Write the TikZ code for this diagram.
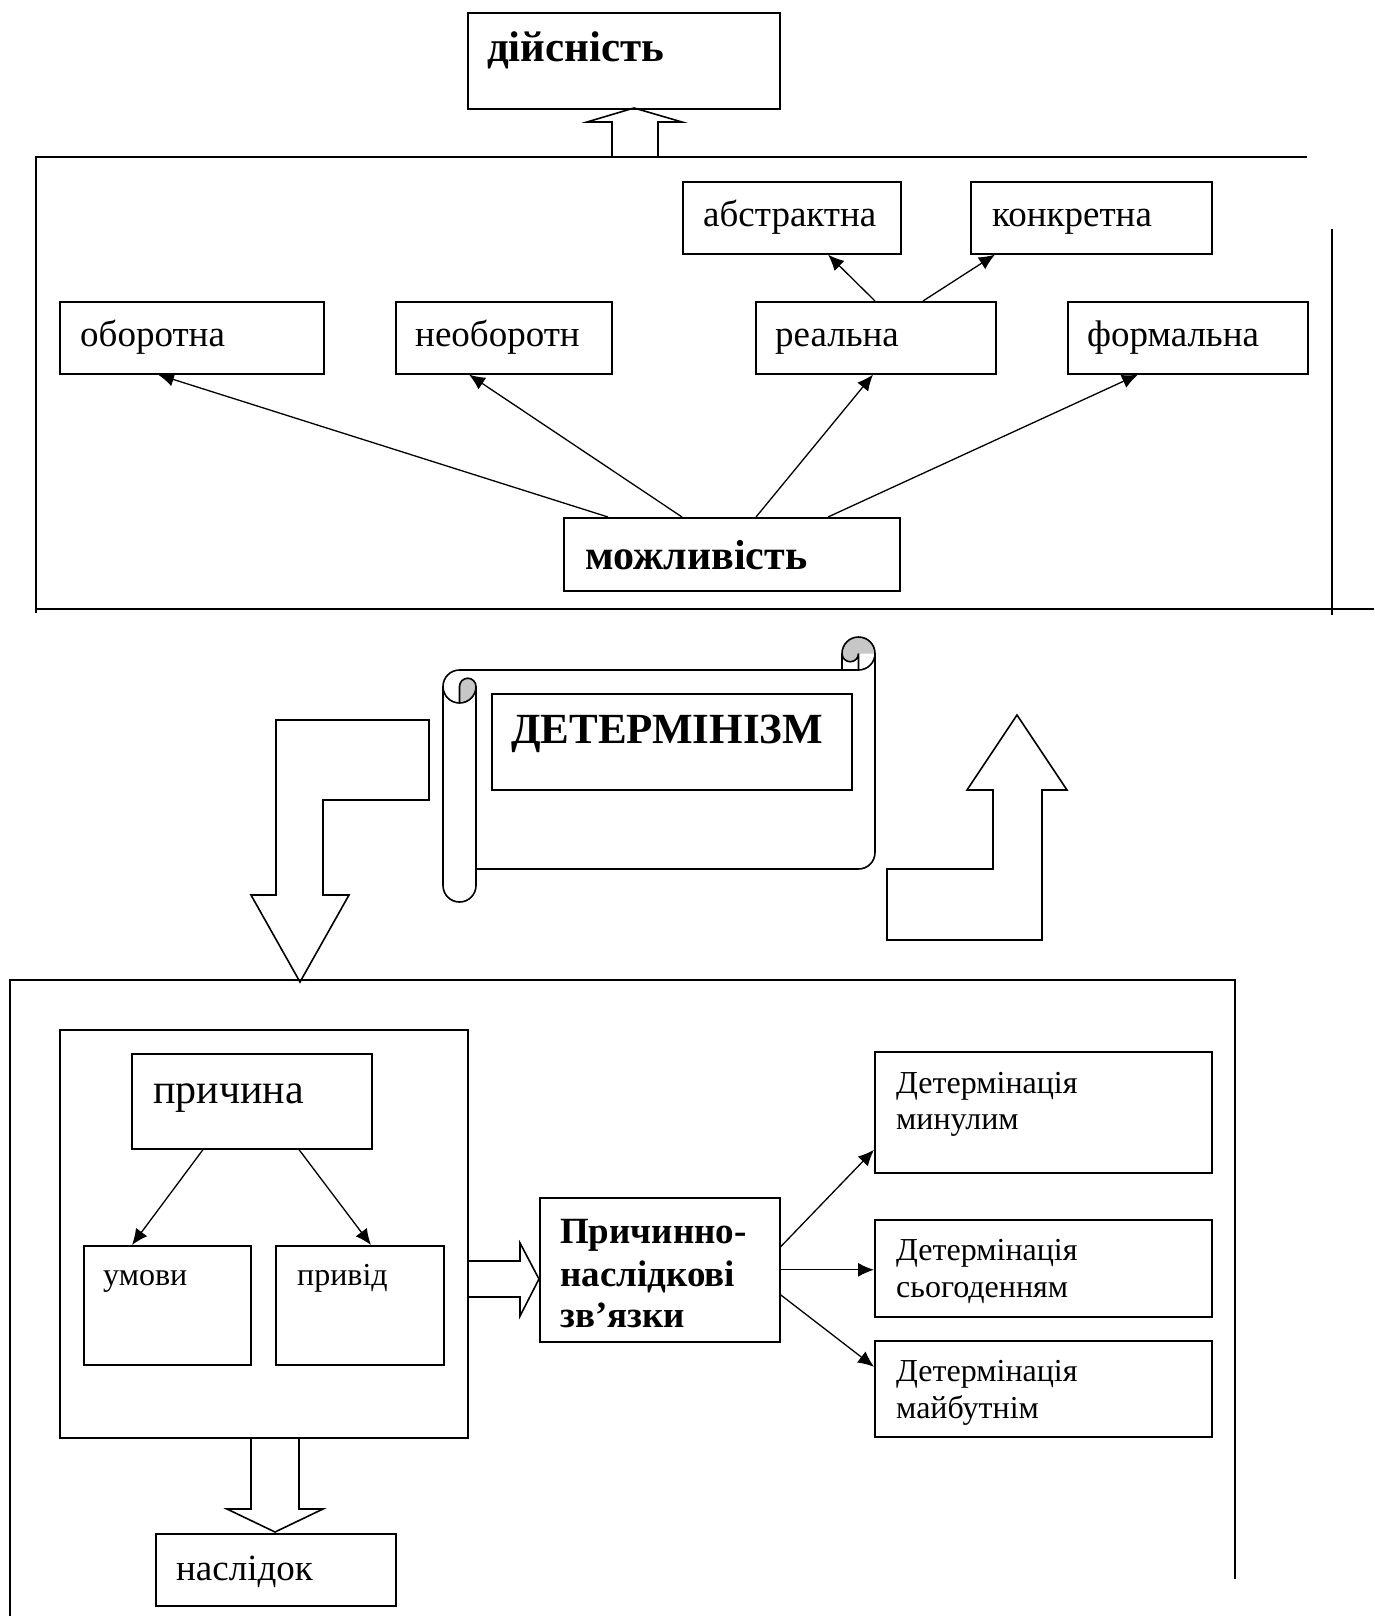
\documentclass[tikz,border=0pt]{standalone}
\usepackage{fontspec}
\setmainfont{Liberation Serif}
\usetikzlibrary{arrows.meta}
\newcommand\myfs[1]{\fontsize{#1}{#1}\selectfont}
\tikzset{
  bx/.style={draw, line width=1.6pt, rectangle, inner sep=0pt, anchor=north west},
  lbl/.style={anchor=base west, inner sep=0pt},
  rg/.style={lbl, font=\myfs{37}},
  sm/.style={lbl, font=\myfs{32}},
  bd/.style={lbl, font=\bfseries\myfs{42}},
  arr/.style={line width=1.3pt, -{Latex[length=16pt,width=14pt]}},
  frm/.style={line width=1.6pt},
  hol/.style={draw, line width=1.6pt},
  rollgray/.style={fill=black!22},
}
\begin{document}
\begin{tikzpicture}[x=1pt,y=-1pt]
\useasboundingbox (0,0) rectangle (1374,1616);
\fill[white] (0,0) rectangle (1374,1616);

% ---------- hollow block arrows (drawn first, no fill) ----------
\draw[hol] (612,157) -- (612,122) -- (587,122) -- (634,108) -- (682,122) -- (658,122) -- (658,157);
\draw[hol] (276,720) -- (429,720) -- (429,800) -- (323,800) -- (323,895) -- (349,895)
  -- (300,982) -- (251,895) -- (276,895) -- cycle;
\draw[hol] (1017,715) -- (1067,790) -- (1042,790) -- (1042,940) -- (887,940) -- (887,869)
  -- (993,869) -- (993,790) -- (967,790) -- cycle;
\draw[hol] (467,1261) -- (520,1261) -- (520,1243) -- (539,1279) -- (520,1316) -- (520,1297) -- (467,1297);
\draw[hol] (251,1437) -- (251,1509) -- (227,1509) -- (275,1532) -- (323,1509) -- (299,1509) -- (299,1437);

% ---------- upper part ----------
\node[bx, minimum width=312pt, minimum height=96pt] (dijs) at (467,12) {};
\node[lbl, font=\bfseries\myfs{43}] (tdijs) at (487,62) {дійсність};

\draw[frm] (1307,157) -- (36,157) -- (36,613);
\draw[frm] (36,609) -- (1374,609);
\draw[frm] (1332,229) -- (1332,615);

\node[bx, minimum width=218pt, minimum height=72pt] (abstr) at (682,181) {};
\node[bx, minimum width=241pt, minimum height=72pt] (konkr) at (970,181) {};
\node[bx, minimum width=264pt, minimum height=72pt] (obor) at (59,301) {};
\node[bx, minimum width=216pt, minimum height=72pt] (neobor) at (395,301) {};
\node[bx, minimum width=240pt, minimum height=72pt] (real) at (755,301) {};
\node[bx, minimum width=240pt, minimum height=72pt] (formal) at (1067,301) {};
\node[bx, minimum width=336pt, minimum height=73pt] (mozh) at (563,517) {};

\node[rg] (tabstr) at (703,226) {абстрактна};
\node[rg] (tkonkr) at (992,226) {конкретна};
\node[rg] (tobor) at (80,346) {оборотна};
\node[rg] (tneobor) at (415,346) {необоротн};
\node[rg] (treal) at (775,346) {реальна};
\node[rg] (tformal) at (1087,346) {формальна};
\node[bd] (tmozh) at (585,569) {можливість};

\draw[arr] ([xshift=45pt]mozh.north west) -- ([xshift=99pt]obor.south west);
\draw[arr] ([xshift=119pt]mozh.north west) -- ([xshift=74pt]neobor.south west);
\draw[arr] ([xshift=193pt]mozh.north west) -- ([xshift=118pt]real.south west);
\draw[arr] ([xshift=265pt]mozh.north west) -- ([xshift=71pt]formal.south west);
\draw[arr] ([xshift=120pt]real.north west) -- ([xshift=146pt]abstr.south west);
\draw[arr] ([xshift=168pt]real.north west) -- ([xshift=25pt]konkr.south west);

% ---------- scroll ----------
\fill[white] (875,653.5) arc[start angle=0,end angle=90,radius=16.5] -- (459.5,670)
  arc[start angle=270,end angle=180,radius=16.5] -- (443,885.5)
  arc[start angle=180,end angle=0,radius=16.5] -- (476,869) -- (858.5,869)
  arc[start angle=90,end angle=0,radius=16.5] -- cycle;
\fill[rollgray] (842,653.5) arc[start angle=180,end angle=360,radius=16.5] -- (858.5,653.5)
  arc[start angle=0,end angle=180,radius=8.25] -- cycle;
\fill[rollgray] (459.5,703) arc[start angle=90,end angle=0,radius=16.5]
  arc[start angle=0,end angle=-180,radius=8.25] -- cycle;
\draw[line width=1.6pt, line join=round]
  (443,686.5) arc[start angle=180,end angle=270,radius=16.5] -- (842,670) -- (842,653.5)
  arc[start angle=180,end angle=360,radius=16.5] -- (875,852.5)
  arc[start angle=0,end angle=90,radius=16.5] -- (476,869) -- (476,885.5)
  arc[start angle=0,end angle=180,radius=16.5] -- cycle;
\draw[line width=1.6pt] (875,653.5) arc[start angle=0,end angle=90,radius=16.5] -- (842,670);
\draw[line width=1.6pt] (858.5,670) -- (858.5,653.5) arc[start angle=0,end angle=180,radius=8.25];
\draw[line width=1.6pt] (459.5,703) -- (459.5,686.5) arc[start angle=180,end angle=360,radius=8.25]
  arc[start angle=0,end angle=180,radius=16.5];
\draw[line width=1.6pt] (476,686.5) -- (476,869);

\node[bx, minimum width=360pt, minimum height=96pt] (det) at (491,693) {};
\node[lbl, font=\bfseries\myfs{43}] (tdet) at (511,743) {ДЕТЕРМІНІЗМ};

% ---------- lower part ----------
\draw[frm] (10,1616) -- (10,980) -- (1235,980) -- (1235,1579);

\node[bx, minimum width=408pt, minimum height=408pt] (outer) at (59,1029) {};
\node[bx, minimum width=240pt, minimum height=95pt] (prych) at (131,1053) {};
\node[bx, minimum width=167pt, minimum height=119pt] (umovy) at (83,1245) {};
\node[bx, minimum width=168pt, minimum height=119pt] (pryvid) at (275,1245) {};
\node[lbl, font=\myfs{42}] (tprych) at (153,1103) {причина};
\node[sm] (tumovy) at (103,1285) {умови};
\node[sm] (tpryvid) at (297,1285) {привід};

\draw[arr] ([xshift=72pt]prych.south west) -- ([xshift=49pt]umovy.north west);
\draw[arr] ([xshift=168pt]prych.south west) -- ([xshift=96pt]pryvid.north west);

\node[bx, minimum width=240pt, minimum height=144pt] (caus) at (539,1197) {};
\node[lbl, font=\bfseries\myfs{37}] (tcaus1) at (560,1243) {Причинно-};
\node[lbl, font=\bfseries\myfs{37}] (tcaus2) at (560,1286) {наслідкові};
\node[lbl, font=\bfseries\myfs{37}] (tcaus3) at (560,1327) {зв’язки};

\node[bx, minimum width=337pt, minimum height=121pt] (det1) at (874,1051) {};
\node[bx, minimum width=337pt, minimum height=97pt] (det2) at (874,1219) {};
\node[bx, minimum width=337pt, minimum height=96pt] (det3) at (874,1340) {};
\node[sm] (tdet1a) at (896,1093) {Детермінація};
\node[sm] (tdet1b) at (896,1129) {минулим};
\node[sm] (tdet2a) at (896,1260) {Детермінація};
\node[sm] (tdet2b) at (896,1297) {сьогоденням};
\node[sm] (tdet3a) at (896,1381) {Детермінація};
\node[sm] (tdet3b) at (896,1418) {майбутнім};

\draw[arr] ([yshift=23pt]caus.east) -- ([yshift=-37.5pt]det1.west);
\draw[arr] (caus.east) -- (caus.east -| det2.west);
\draw[arr] ([yshift=-25pt]caus.east) -- ([yshift=22pt]det3.west);

\node[bx, minimum width=240pt, minimum height=72pt] (nasl) at (155,1533) {};
\node[rg] (tnasl) at (176,1580) {наслідок};
\end{tikzpicture}
\end{document}
